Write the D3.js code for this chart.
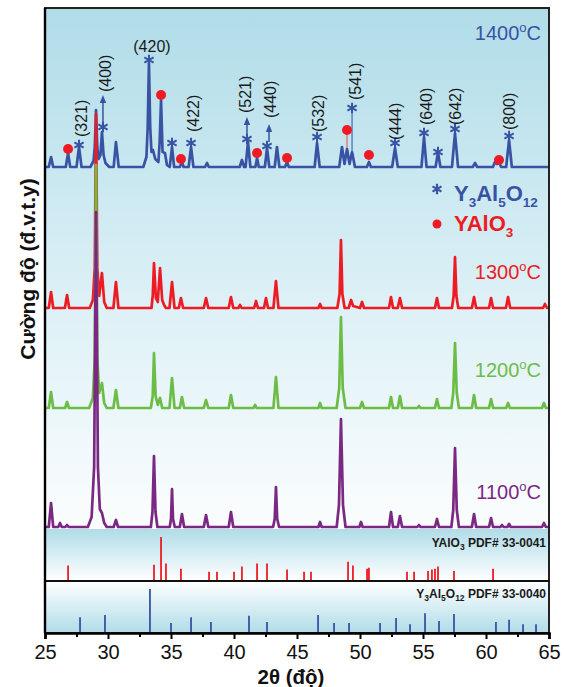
<!DOCTYPE html>
<html><head><meta charset="utf-8">
<script src="https://cdn.jsdelivr.net/npm/d3@7"></script>
<style>body{margin:0;background:#fff;} svg{display:block;font-family:Arial,"Liberation Sans",sans-serif;}</style>
</head><body><svg id="c" width="564" height="687"></svg>
<script>
// ---------------- DATA ----------------
const tickValues = [25, 30, 35, 40, 45, 50, 55, 60, 65];
const minorTickValues = [27.5, 32.5, 37.5, 42.5, 47.5, 52.5, 57.5, 62.5];
const seriesNames = ["1400", "1300", "1200", "1100"];
const seriesOffsets = [362, 221, 121, 2]; // stacking offsets (a.u.)
const labelRise = [127, 29, 31, 28];      // label height above each baseline (a.u.)

// [2θ, intensity a.u.]
const pattern1400 = [[25,0],[25.3,0],[25.48,10],[25.65,0],[26.65,0],[26.83,14],[27.0,0],[27.5,0],[27.7,20],[27.9,0],
[28.6,0],[28.85,6],[28.95,20],[29.05,57],[29.15,20],[29.25,8],[29.4,12],[29.52,35],[29.65,12],[29.8,4],[30.1,0],
[30.45,0],[30.63,25],[30.85,0],[32.8,0],[33.05,10],[33.15,40],[33.25,104],[33.35,40],[33.45,15],[33.57,17],[33.75,8],[34.0,5],[34.1,25],[34.21,67],[34.33,15],[34.52,14],[34.68,2],
[34.9,0],[35.08,20],[35.25,0],[35.7,0],[35.87,5],[36.0,0],[36.4,0],[36.59,20],[36.78,0],[37.7,0],[37.86,4],[38.0,0],
[40.45,0],[40.63,7],[40.8,0],[40.92,0],[41.11,25],[41.3,0],[41.7,0],[41.83,9],[41.97,0],[42.45,0],[42.62,19],[42.8,0],
[43.23,0],[43.41,20],[43.6,0],[44.05,0],[44.21,5],[44.35,0],[46.4,0],[46.59,24],[46.8,0],
[48.35,0],[48.57,20],[48.77,3],[48.97,18],[49.17,3],[49.37,15],[49.6,0],[50.55,0],[50.71,5],[50.87,0],
[52.55,0],[52.78,19],[53.0,0],[54.88,0],[55.08,30],[55.28,0],[56.0,0],[56.19,15],[56.38,0],
[57.3,0],[57.54,34],[57.78,0],[58.95,0],[59.13,4],[59.3,0],[60.55,0],[60.71,5],[60.87,3],[61.03,5],[61.2,0],
[61.6,0],[61.83,27],[62.05,0],[65,0]];

const pattern1300 = [[25,0],[25.3,0],[25.48,16],[25.65,0],[26.58,0],[26.75,13],[26.92,0],
[28.55,0],[28.8,8],[28.95,40],[29.05,194],[29.15,40],[29.3,12],[29.52,35],[29.7,6],[29.9,0],
[30.43,0],[30.63,26],[30.83,0],[33.45,0],[33.55,12],[33.65,45],[33.8,10],[33.95,6],[34.13,40],[34.3,8],[34.45,3],[34.6,0],
[34.88,0],[35.08,26],[35.28,0],[35.62,0],[35.79,10],[35.96,0],[37.6,0],[37.78,10],[37.96,0],
[39.58,0],[39.76,11],[39.94,0],[40.35,0],[40.48,3],[40.6,0],[41.6,0],[41.75,7],[41.9,0],[42.38,0],[42.54,10],[42.7,0],
[43.13,0],[43.33,27],[43.53,0],[46.7,0],[46.83,4],[46.96,0],
[48.2,0],[48.38,14],[48.49,68],[48.6,14],[48.78,0],[49.1,0],[49.29,8],[49.45,2],[50.0,0],[50.16,6],[50.32,0],
[52.3,0],[52.46,11],[52.62,0],[53.0,0],[53.17,10],[53.34,0],[55.95,0],[56.11,10],[56.27,0],
[57.3,0],[57.43,12],[57.54,51],[57.65,12],[57.8,0],[58.88,0],[59.05,11],[59.22,0],[60.24,0],[60.4,10],[60.56,0],
[61.58,0],[61.75,11],[61.92,0],[64.52,0],[64.68,4],[64.84,0],[65,0]];

const pattern1200 = [[25,0],[25.3,0],[25.48,16],[25.65,0],[26.6,0],[26.75,6],[26.9,0],
[28.5,0],[28.8,10],[28.95,50],[29.05,243],[29.15,50],[29.3,15],[29.52,25],[29.7,5],[29.9,0],
[30.43,0],[30.63,18],[30.83,0],[33.4,0],[33.55,12],[33.65,55],[33.78,12],[33.95,3],[34.13,10],[34.3,0],
[34.88,0],[35.08,30],[35.28,0],[35.7,0],[35.87,11],[36.04,0],[37.6,0],[37.78,8],[37.96,0],
[39.58,0],[39.76,13],[39.94,0],[41.55,0],[41.67,3],[41.8,0],[43.13,0],[43.33,31],[43.53,0],
[46.7,0],[46.83,5],[46.96,0],[48.15,0],[48.35,20],[48.49,91],[48.63,20],[48.85,0],[50.0,0],[50.16,6],[50.32,0],
[52.3,0],[52.46,11],[52.62,0],[53.0,0],[53.17,12],[53.34,0],[54.55,0],[54.68,2],[54.8,0],[55.95,0],[56.11,9],[56.27,0],
[57.25,0],[57.4,15],[57.54,65],[57.68,15],[57.85,0],[58.88,0],[59.05,13],[59.22,0],[60.24,0],[60.4,9],[60.56,0],
[61.6,0],[61.75,5],[61.9,0],[64.45,0],[64.6,5],[64.75,0],[65,0]];

const pattern1100 = [[25,0],[25.3,0],[25.48,24],[25.65,0],[26.05,0],[26.19,4],[26.33,0],[26.62,0],[26.75,2],[26.88,0],
[28.4,0],[28.7,10],[28.9,60],[29.05,315],[29.2,60],[29.35,18],[29.52,14],[29.7,4],[29.9,0],
[30.45,0],[30.63,7],[30.8,0],[33.4,0],[33.53,15],[33.65,71],[33.77,15],[33.92,0],
[34.9,0],[35.0,8],[35.08,38],[35.16,8],[35.3,0],[35.7,0],[35.87,13],[36.04,0],[37.6,0],[37.78,12],[37.96,0],
[39.58,0],[39.76,15],[39.94,0],[43.1,0],[43.23,8],[43.33,40],[43.43,8],[43.58,0],[46.7,0],[46.83,5],[46.96,0],
[48.15,0],[48.33,22],[48.49,108],[48.65,22],[48.85,0],[49.95,0],[50.08,5],[50.21,0],
[52.3,0],[52.46,15],[52.62,0],[53.0,0],[53.17,11],[53.34,0],[54.55,0],[54.68,2],[54.8,0],[55.95,0],[56.11,8],[56.27,0],
[57.25,0],[57.4,17],[57.54,79],[57.68,17],[57.85,0],[58.88,0],[59.05,13],[59.22,0],[60.24,0],[60.4,9],[60.56,0],
[61.15,0],[61.27,2],[61.4,0],[61.7,0],[61.83,3],[61.96,0],[64.45,0],[64.6,4],[64.75,0],[65,0]];

// Reference sticks [2θ, relative intensity %]
const yapRef = [[26.83,35],[33.65,37],[34.21,100],[34.6,40],[35.79,28],[38.02,21],[38.65,21],[40.0,21],[40.63,33],
[41.83,40],[42.62,40],[44.21,26],[45.56,21],[46.11,21],[49.05,44],[49.44,35],[50.56,28],[50.71,30],[53.73,21],
[54.29,21],[55.4,23],[55.71,26],[55.95,28],[56.19,33],[57.46,23],[60.56,28]];
const yagRef = [[27.78,36],[29.76,41],[33.33,100],[35.0,23],[36.59,36],[38.17,25],[41.19,39],[42.62,25],[46.67,41],
[47.94,23],[49.13,23],[51.59,23],[52.86,34],[53.97,20],[55.16,45],[56.27,27],[57.46,43],[60.79,25],[61.83,30],
[62.94,20],[63.97,20],[65.0,20]];

// Annotations on the 1400 pattern: intensity above its baseline
const hklText = ["(321)","(400)","(420)","(422)","(521)","(440)","(532)","(541)","(444)","(640)","(642)","(800)"];
const hklTheta = [27.86, 29.76, 33.49, 36.75, 40.87, 42.86, 46.67, 49.6, 52.78, 55.24, 57.54, 61.83];
const hklLevel = [30, 75, 115, 35, 54, 49, 35, 67, 27, 42, 42, 37];
const yagMarks = [[27.7,22],[29.6,40],[33.25,107],[35.08,24],[36.59,24],[41.03,28],[42.62,21],[46.59,30],[49.37,59],
[52.78,24],[55.08,34],[56.19,15],[57.54,38],[61.83,31]];
const yapMarks = [[26.83,18],[34.21,72],[35.79,8],[41.83,14],[44.21,9],[48.97,37],[50.71,12],[61.03,7]];
const arrows = [[29.6,43,72],[41.03,32,50],[42.78,25,43]];
const leaders = [[49.37,15,59,"yag"],[48.97,19,37,"yap"]];

// ---------------- LAYOUT ----------------
const L = 45, R = 549, T = 8, mainB = 529, mid = 581, B = 633;
const colors = {"1400":"#3853a4","1300":"#ed1c24","1200":"#6cbd45","1100":"#7b2883"};
const svg = d3.select("#c");
const x = d3.scaleLinear().domain([25, 65]).range([L, R]);
const y = d3.scaleLinear().domain([0, 521]).range([mainB, T]);
const yYap = d3.scaleLinear().domain([0, 100]).range([mid, 537]);
const yYag = d3.scaleLinear().domain([0, 100]).range([B, 589]);

const defs = svg.append("defs");
function grad(id, stops) {
  const g = defs.append("linearGradient").attr("id", id).attr("x1",0).attr("y1",0).attr("x2",0).attr("y2",1);
  stops.forEach(s => g.append("stop").attr("offset", s[0]).attr("stop-color", s[1]));
}
grad("gMain", [[0,"#b0dce8"],[0.55,"#dcf0f6"],[1,"#fbfdfe"]]);
grad("gYap", [[0,"#b0dce8"],[1,"#ffffff"]]);
grad("gYag", [[0,"#ffffff"],[1,"#b0dce8"]]);
defs.append("clipPath").attr("id","clipMain").append("rect").attr("x",L).attr("y",T).attr("width",R-L).attr("height",mainB-T);

svg.append("rect").attr("x",L).attr("y",T).attr("width",R-L).attr("height",mainB-T).attr("fill","url(#gMain)");
svg.append("rect").attr("x",L).attr("y",mainB).attr("width",R-L).attr("height",mid-mainB).attr("fill","url(#gYap)");
svg.append("rect").attr("x",L).attr("y",mid).attr("width",R-L).attr("height",B-mid).attr("fill","url(#gYag)");

// patterns (drawn 1400 first so lower patterns lie on top)
const patterns = [pattern1400, pattern1300, pattern1200, pattern1100];
const gPat = svg.append("g").attr("clip-path","url(#clipMain)");
patterns.forEach((p, i) => {
  const off = seriesOffsets[i];
  const line = d3.line().x(d => x(d[0])).y(d => y(d[1] + off));
  gPat.append("path").datum(p).attr("d", line).attr("fill","none")
    .attr("stroke", colors[seriesNames[i]]).attr("stroke-width", 2.7).attr("stroke-linejoin","round");
});

// temperature labels
seriesNames.forEach((n, i) => {
  const t = svg.append("text").attr("x", 541).attr("y", y(seriesOffsets[i] + labelRise[i]))
    .attr("text-anchor","end").attr("fill", colors[n]).attr("font-size", 20);
  t.append("tspan").text(n);
  t.append("tspan").attr("font-size", 13).attr("dy", -8).text("o");
  t.append("tspan").attr("dy", 8).text("C");
});

// annotations on 1400 pattern
const off0 = seriesOffsets[0];
const ann = svg.append("g");
leaders.forEach(d => {
  ann.append("line").attr("x1", x(d[0])).attr("x2", x(d[0])).attr("y1", y(off0 + d[1])).attr("y2", y(off0 + d[2]))
    .attr("stroke", d[3] === "yag" ? "#4a72c4" : "#ee6a6a").attr("stroke-width", 1.3);
});
arrows.forEach(d => {
  const ax0 = x(d[0]), yb = y(off0 + d[1]), yt = y(off0 + d[2]);
  ann.append("line").attr("x1", ax0).attr("x2", ax0).attr("y1", yb).attr("y2", yt + 5)
    .attr("stroke", colors["1400"]).attr("stroke-width", 1.5);
  ann.append("path").attr("d", `M${ax0 - 3.2},${yt + 8} L${ax0},${yt} L${ax0 + 3.2},${yt + 8} Z`).attr("fill", colors["1400"]);
});
const star = d3.symbol().type(d3.symbolAsterisk).size(80);
yagMarks.forEach(d => {
  ann.append("path").attr("d", star()).attr("transform", `translate(${x(d[0])},${y(off0 + d[1])})`)
    .attr("fill","none").attr("stroke", colors["1400"]).attr("stroke-width", 2);
});
yapMarks.forEach(d => {
  ann.append("circle").attr("cx", x(d[0])).attr("cy", y(off0 + d[1])).attr("r", 5).attr("fill", "#ed1c24");
});
hklText.forEach((s, i) => {
  const px = x(hklTheta[i]), py = y(off0 + hklLevel[i]);
  if (s === "(420)") {
    ann.append("text").attr("x", px).attr("y", py).attr("text-anchor","middle").attr("font-size", 16).attr("fill","#1a1a1a").text(s);
  } else {
    ann.append("text").attr("transform", `translate(${px},${py}) rotate(-90)`).attr("dy","0.36em")
      .attr("font-size", 16).attr("fill","#1a1a1a").text(s);
  }
});

// legend
const lg = svg.append("g").attr("font-weight","bold").attr("font-size", 22);
lg.append("path").attr("d", d3.symbol().type(d3.symbolAsterisk).size(75)()).attr("transform","translate(437,189)")
  .attr("fill","none").attr("stroke", colors["1400"]).attr("stroke-width", 2.2);
const t1 = lg.append("text").attr("x", 454).attr("y", 201).attr("fill", colors["1400"]);
[["Y",0],["3",1],["Al",0],["5",1],["O",0],["12",1]].forEach((p, k, arr) => {
  const prev = k > 0 ? arr[k-1][1] : 0;
  const ts = t1.append("tspan").text(p[0]).attr("dy", p[1] && !prev ? 6 : (!p[1] && prev ? -6 : 0));
  if (p[1]) ts.attr("font-size", 13.5);
});
lg.append("circle").attr("cx", 437).attr("cy", 224).attr("r", 4.5).attr("fill", "#ed1c24");
const t2 = lg.append("text").attr("x", 454).attr("y", 231).attr("fill", "#ed1c24");
t2.append("tspan").text("YAlO");
t2.append("tspan").text("3").attr("font-size", 13.5).attr("dy", 6);

// reference sticks
svg.append("g").selectAll("line").data(yapRef).join("line")
  .attr("x1", d => x(d[0])).attr("x2", d => x(d[0])).attr("y1", yYap(0)).attr("y2", d => yYap(d[1]))
  .attr("stroke", "#ed1c24").attr("stroke-width", 1.8);
svg.append("g").selectAll("line").data(yagRef).join("line")
  .attr("x1", d => x(d[0])).attr("x2", d => x(d[0])).attr("y1", yYag(0)).attr("y2", d => yYag(d[1]))
  .attr("stroke", "#3853a4").attr("stroke-width", 1.8);
const p1 = svg.append("text").attr("x", 546).attr("y", 547).attr("text-anchor","end").attr("font-size", 12).attr("font-weight","bold").attr("fill","#1a1a1a");
p1.append("tspan").text("YAlO");
p1.append("tspan").text("3").attr("font-size", 8.5).attr("dy", 3);
p1.append("tspan").text(" PDF# 33-0041").attr("dy", -3);
const p2 = svg.append("text").attr("x", 546).attr("y", 598).attr("text-anchor","end").attr("font-size", 12).attr("font-weight","bold").attr("fill","#1a1a1a");
[["Y",0],["3",1],["Al",0],["5",1],["O",0],["12",1],[" PDF# 33-0040",0]].forEach((p, k, arr) => {
  const prev = k > 0 ? arr[k-1][1] : 0;
  const ts = p2.append("tspan").text(p[0]).attr("dy", p[1] && !prev ? 3 : (!p[1] && prev ? -3 : 0));
  if (p[1]) ts.attr("font-size", 8.5);
});

// frame
svg.append("rect").attr("x",L).attr("y",T).attr("width",R-L).attr("height",B-T).attr("fill","none").attr("stroke","#222").attr("stroke-width",2);
svg.append("line").attr("x1",L).attr("x2",R).attr("y1",mid).attr("y2",mid).attr("stroke","#111").attr("stroke-width",2.2);
svg.append("line").attr("x1",L).attr("x2",L).attr("y1",T).attr("y2",B).attr("stroke","#000").attr("stroke-width",2.4);

// x axis
const ax = svg.append("g").attr("transform", `translate(0,${B})`)
  .call(d3.axisBottom(x).tickValues(tickValues).tickSize(6).tickFormat(d3.format("d")));
ax.select(".domain").attr("stroke","#000").attr("stroke-width",2.6);
ax.selectAll(".tick line").attr("stroke","#000").attr("stroke-width",2);
ax.selectAll(".tick text").attr("font-size",20).attr("fill","#111").attr("font-family","Arial, 'Liberation Sans', sans-serif").attr("dy","0.85em");
const axm = svg.append("g").attr("transform", `translate(0,${B})`)
  .call(d3.axisBottom(x).tickValues(minorTickValues).tickSize(4).tickFormat(""));
axm.select(".domain").remove();
axm.selectAll(".tick line").attr("stroke","#000").attr("stroke-width",2);

// axis titles
svg.append("text").attr("x", 291).attr("y", 684).attr("text-anchor","middle").attr("font-size", 20.5).attr("font-weight","bold").attr("fill","#111").text("2θ (độ)");
svg.append("text").attr("transform","translate(35,269) rotate(-90)").attr("text-anchor","middle").attr("font-size", 21).attr("font-weight","bold").attr("fill","#111").text("Cường độ (đ.v.t.y)");
</script></body></html>
